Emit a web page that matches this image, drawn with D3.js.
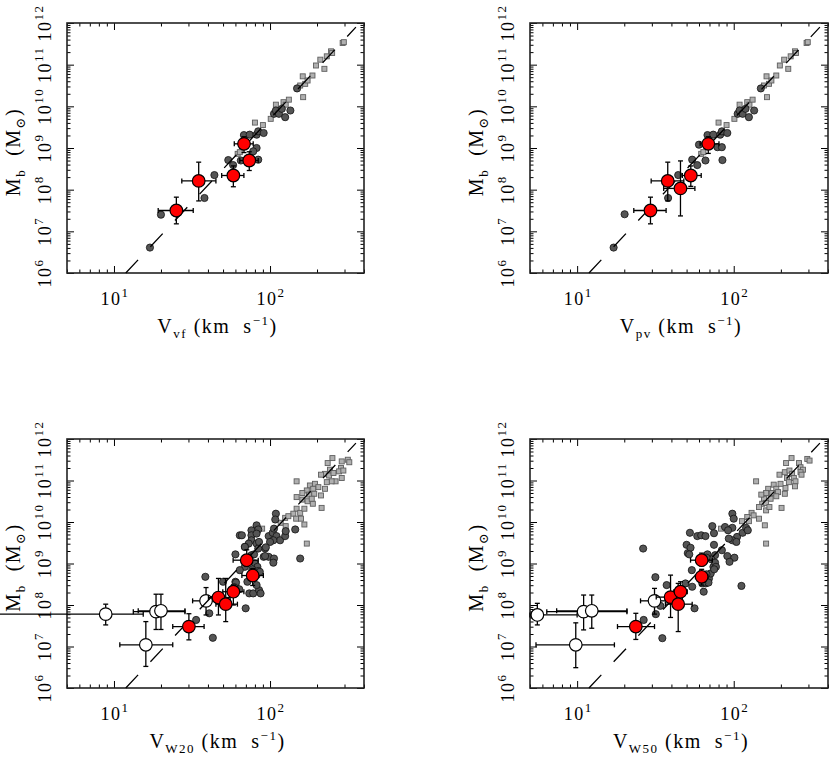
<!DOCTYPE html>
<html>
<head>
<meta charset="utf-8">
<script src="https://cdn.jsdelivr.net/npm/d3@7"></script>
<style>
  body { margin: 0; background: #fff; }
  svg text { font-family: "Liberation Serif", "DejaVu Serif", serif; fill: #000; white-space: pre; letter-spacing: 1.5px; }
</style>
</head>
<body>
<svg id="chart" width="830" height="761"></svg>
<script>
// values are [V (km/s), log10 Mb]; error points add [Vlo, Vhi, logMlo, logMhi]

// large spirals (grey squares), same in the two upper panels
const topSquares = [
  [62, 8.86], [64, 8.90], [80, 9.61], [90, 9.55], [101, 9.70], [109, 10.04], [122, 10.10],
  [126, 10.04], [132, 10.16], [156, 10.50], [162, 10.72], [163, 10.22], [168, 10.54],
  [174, 10.62], [187, 10.74], [197, 10.98], [210, 11.12], [223, 10.90], [231, 11.20],
  [246, 11.32], [250, 11.28], [292, 11.52], [297, 11.54]
];

const vfCircles = [
  [17.0, 6.61], [20.0, 7.40], [38, 7.80], [44, 8.35], [54, 8.71], [58, 8.59], [65, 8.70],
  [84, 8.72], [68, 9.31], [74, 9.32], [82, 9.32], [84, 9.40], [91, 9.36], [82, 9.00],
  [78, 8.92], [106, 9.82], [109, 9.90], [114, 9.82], [119, 9.94], [125, 9.74], [135, 9.90],
  [149, 10.43]
];
const vfRed = [
  [25.1, 7.50, 19.2, 32.2, 7.18, 7.82],
  [34.9, 8.21, 27.2, 45.0, 7.73, 8.66],
  [58.2, 8.34, 49.0, 68.0, 8.07, 8.57],
  [68.1, 9.10, 59.0, 78.0, 8.89, 9.27],
  [73.6, 8.70, 64.0, 84.0, 8.46, 8.91]
];

const pvCircles = [
  [17.1, 6.61], [20.1, 7.41], [38.1, 7.80], [44.2, 8.35], [54.3, 8.72], [58.5, 8.59],
  [66, 8.70], [60, 9.08], [84.7, 8.71], [78.7, 9.02], [84, 9.02], [68, 9.31], [74, 9.32],
  [82, 9.32], [84, 9.40], [91, 9.36], [106, 9.82], [109, 9.90], [114, 9.82], [119, 9.94],
  [125, 9.74], [135, 9.90], [149, 10.43]
];
const pvRed = [
  [29.4, 7.50, 23.0, 37.0, 7.18, 7.82],
  [37.9, 8.21, 29.7, 48.0, 7.73, 8.66],
  [45.7, 8.03, 35.7, 56.5, 7.37, 8.69],
  [53.2, 8.34, 47.0, 62.0, 8.08, 8.57],
  [68.8, 9.10, 61.0, 80.5, 8.87, 9.27]
];

const w20Squares = [
  [251, 11.54], [234, 11.42], [288, 11.46], [315, 11.50], [322, 11.44], [285, 11.30],
  [277, 11.22], [295, 11.24], [242, 11.26], [225, 11.16], [212, 11.14], [239, 11.12],
  [255, 11.18], [288, 11.06], [263, 10.98], [248, 10.98], [231, 10.96], [148, 10.98],
  [194, 10.92], [180, 10.88], [204, 10.84], [189, 10.80], [172, 10.76], [161, 10.70],
  [178, 10.66], [192, 10.68], [212, 10.64], [225, 10.80], [148, 10.60], [161, 10.54],
  [174, 10.50], [188, 10.44], [214, 10.34], [185, 10.56], [148, 10.32], [141, 10.20],
  [156, 10.22], [166, 10.32], [147, 10.08], [158, 10.08], [166, 9.94], [172, 9.48],
  [125, 10.10], [131, 10.14], [117, 9.98], [126, 9.90], [89, 9.84]
];
const w20Circles = [
  [109, 10.20], [108, 10.06], [82, 9.92], [84, 9.82], [76, 9.80], [64, 9.68], [66, 9.68],
  [76, 9.68], [82, 9.72], [98, 9.66], [104, 9.74], [106, 9.84], [110, 9.66], [116, 9.56],
  [125, 9.66], [126, 9.78], [145, 9.82], [105, 9.56], [100, 9.52], [76, 9.56], [73, 9.48],
  [82, 9.48], [69, 9.40], [93, 9.36], [84, 9.36], [60, 9.22], [76, 9.20], [91, 9.16],
  [98, 9.16], [106, 9.12], [105, 9.02], [156, 9.12], [80, 9.00], [83, 8.92], [84, 8.82],
  [82, 8.72], [69, 8.92], [64, 8.84], [50, 8.56], [60, 8.56], [60, 8.48], [38.5, 8.68],
  [33.6, 7.64], [43, 7.21], [40.8, 7.80], [69.8, 7.92], [60.5, 8.54], [59, 8.43],
  [71.6, 8.56], [63.5, 8.38], [73.6, 8.28], [78, 8.28], [85, 8.36], [87, 8.28], [82, 8.48],
  [86, 8.80], [94, 9.39], [85, 9.52], [93, 9.18], [79, 9.22], [77, 8.86], [69, 9.40]
];
const w20Red = [
  [30.2, 7.48, 23.8, 37.8, 7.16, 7.79],
  [46.7, 8.18, 40.3, 55.5, 7.76, 8.64],
  [52.0, 8.02, 45.0, 61.8, 7.60, 8.64],
  [58.2, 8.32, 49.8, 68.0, 8.00, 8.48],
  [70.9, 9.08, 58.0, 84.0, 8.93, 9.33],
  [77.4, 8.71, 66.0, 90.6, 8.47, 8.88]
];
const w20White = [
  [8.85, 7.78, 1.0, 15.4, 7.52, 8.02],
  [16.0, 7.04, 10.9, 23.8, 6.52, 7.60],
  [18.6, 7.84, 13.3, 28.5, 7.41, 8.26],
  [20.0, 7.86, 14.3, 28.5, 7.41, 8.26],
  [38.9, 8.10, 31.9, 46.7, 7.76, 8.42]
];

const w50Squares = [
  [234, 11.54], [216, 11.42], [261, 11.42], [295, 11.52], [305, 11.48], [267, 11.32],
  [277, 11.26], [267, 11.20], [271, 11.14], [139, 10.98], [196, 11.14], [212, 11.20],
  [227, 11.24], [236, 11.16], [219, 11.06], [242, 11.06], [248, 10.98], [246, 10.86],
  [225, 10.96], [214, 10.82], [199, 10.92], [180, 10.90], [187, 10.80], [166, 10.80],
  [161, 10.70], [176, 10.70], [192, 10.72], [187, 10.62], [172, 10.56], [156, 10.56],
  [150, 10.66], [212, 10.68], [152, 10.44], [161, 10.46], [145, 10.36], [161, 10.28],
  [169, 10.36], [202, 10.34], [145, 10.08], [158, 9.92], [161, 9.48], [130, 10.22],
  [122, 10.12], [113, 10.02], [125, 10.02], [83, 9.84], [134, 10.16]
];
const w50Circles = [
  [26.4, 9.36], [31.6, 8.67], [37.3, 8.48], [31.8, 7.78], [34, 7.98], [26.6, 7.64], [35, 7.20],
  [49.2, 8.52], [54.3, 8.44], [56.2, 7.92], [64.3, 8.32], [66.2, 8.52], [69.5, 8.64],
  [71.3, 8.76], [74.2, 8.92], [50.9, 9.25], [50, 9.45], [52.5, 9.74], [58.5, 9.66], [62, 9.68],
  [66, 9.66], [73, 9.90], [74.8, 9.73], [74.8, 9.45], [76, 9.20], [98, 10.20], [100, 10.08],
  [88, 9.88], [98, 9.86], [92, 9.80], [105, 9.64], [98, 9.56], [93, 9.60], [104, 9.52],
  [114, 9.74], [120, 9.86], [123, 9.80], [53, 9.38], [84, 9.32], [52, 9.22], [91, 9.18],
  [101, 9.14], [94, 9.04], [72, 9.10], [76, 9.02], [77, 8.92], [75, 8.86], [68, 9.22],
  [67, 9.14], [54, 8.84], [67, 8.74], [65, 8.60], [69, 8.54], [63, 8.52], [112, 8.46]
];
const w50Red = [
  [23.7, 7.48, 18.1, 31.2, 7.17, 7.80],
  [39.5, 8.19, 32.0, 47.0, 7.70, 8.72],
  [44.2, 8.02, 36.6, 54.3, 7.36, 8.52],
  [45.7, 8.32, 41.4, 50.5, 8.08, 8.56],
  [62.4, 8.68, 57.0, 68.4, 8.48, 8.86],
  [62.4, 9.08, 53.0, 73.0, 8.94, 9.25]
];
const w50White = [
  [5.57, 7.76, 5.0, 10.0, 7.52, 8.04],
  [11.0, 7.84, 6.4, 20.8, 7.40, 8.24],
  [12.4, 7.86, 7.4, 20.8, 7.44, 8.24],
  [9.8, 7.04, 5.46, 17.3, 6.49, 7.57],
  [31.2, 8.10, 25.4, 37.6, 7.78, 8.40]
];

// baryonic Tully-Fisher line end points [V, logM]
const btfLine = [[11.9, 6.0], [355, 11.9]];

const xDomain = [5, 400];
const yDomain = [1e6, 1e12];

const panels = [
  {x0: 67, y0: 23, w: 297, h: 250, sub: 'vf', squares: topSquares, circles: vfCircles, red: vfRed, white: []},
  {x0: 530, y0: 23, w: 298, h: 250, sub: 'pv', squares: topSquares, circles: pvCircles, red: pvRed, white: []},
  {x0: 67, y0: 439, w: 297, h: 249, sub: 'W20', squares: w20Squares, circles: w20Circles, red: w20Red, white: w20White},
  {x0: 530, y0: 439, w: 298, h: 249, sub: 'W50', squares: w50Squares, circles: w50Circles, red: w50Red, white: w50White}
];

const svg = d3.select('#chart');
const M = lm => Math.pow(10, lm);

panels.forEach(p => {
  const x = d3.scaleLog().domain(xDomain).range([p.x0, p.x0 + p.w]);
  const y = d3.scaleLog().domain(yDomain).range([p.y0 + p.h, p.y0]);
  const g = svg.append('g');

  // ticks on all four sides, pointing in
  const isMajor = v => Math.abs(Math.log10(v) - Math.round(Math.log10(v))) < 1e-6;
  const xt = x.ticks(), yt = y.ticks();
  const sides = [
    [d3.axisBottom(x), xt, `translate(0,${p.y0 + p.h})`],
    [d3.axisTop(x), xt, `translate(0,${p.y0})`],
    [d3.axisLeft(y), yt, `translate(${p.x0},0)`],
    [d3.axisRight(y), yt, `translate(${p.x0 + p.w},0)`]
  ];
  sides.forEach(([ax, ticks, tr]) => {
    [[ticks.filter(v => !isMajor(v)), 3.5], [ticks.filter(isMajor), 7]].forEach(([vals, len]) => {
      const a = g.append('g').attr('transform', tr)
        .call(ax.tickValues(vals).tickSize(-len).tickSizeOuter(0).tickFormat(''));
      a.select('.domain').remove();
      a.selectAll('line').attr('stroke', '#000').attr('stroke-width', 1);
    });
  });

  g.append('rect')
    .attr('x', p.x0).attr('y', p.y0).attr('width', p.w).attr('height', p.h)
    .attr('fill', 'none').attr('stroke', '#222').attr('stroke-width', 1.6);

  // tick labels
  xt.filter(isMajor).forEach(v => {
    const t = g.append('text').attr('x', x(v) + 1).attr('y', p.y0 + p.h + 32)
      .attr('text-anchor', 'middle').attr('font-size', 18);
    t.append('tspan').text('10');
    t.append('tspan').attr('dy', -8).attr('font-size', 13).text(Math.round(Math.log10(v)));
  });
  yt.filter(isMajor).forEach(v => {
    const t = g.append('text')
      .attr('transform', `translate(${p.x0 - 16},${y(v)}) rotate(-90)`)
      .attr('text-anchor', 'middle').attr('font-size', 18);
    t.append('tspan').text('10');
    t.append('tspan').attr('dy', -8).attr('font-size', 13).text(Math.round(Math.log10(v)));
  });

  // axis titles
  const xt1 = g.append('text').attr('x', p.x0 + p.w / 2 + 2).attr('y', p.y0 + p.h + 60)
    .attr('text-anchor', 'middle').attr('font-size', 20);
  xt1.append('tspan').text('V');
  xt1.append('tspan').attr('dy', 5).attr('font-size', 13).text(p.sub);
  xt1.append('tspan').attr('dy', -5).text(' (km  s');
  xt1.append('tspan').attr('dy', -8).attr('font-size', 13).text('−1');
  xt1.append('tspan').attr('dy', 8).text(')');

  const yt1 = g.append('text')
    .attr('transform', `translate(${p.x0 - 47},${p.y0 + p.h / 2 + 4}) rotate(-90)`)
    .attr('text-anchor', 'middle').attr('font-size', 20);
  yt1.append('tspan').text('M');
  yt1.append('tspan').attr('dy', 5).attr('font-size', 13).text('b');
  yt1.append('tspan').attr('dy', -5).text('  (M');
  yt1.append('tspan').attr('dy', 5).attr('font-size', 13).text('⊙');
  yt1.append('tspan').attr('dy', -5).text(')');

  // grey squares
  g.append('g').selectAll('rect').data(p.squares).join('rect')
    .attr('x', d => x(d[0]) - 2.5).attr('y', d => y(M(d[1])) - 2.5)
    .attr('width', 5).attr('height', 5)
    .attr('fill', '#b0b0b0').attr('stroke', '#5e5e5e').attr('stroke-width', 0.9);

  // dark circles
  g.append('g').selectAll('circle').data(p.circles).join('circle')
    .attr('cx', d => x(d[0])).attr('cy', d => y(M(d[1]))).attr('r', 3.6)
    .attr('fill', '#555').attr('stroke', '#111').attr('stroke-width', 0.8);

  function errPoints(data, fill) {
    const e = g.append('g').attr('stroke', '#000').attr('stroke-width', 1.3);
    data.forEach(d => {
      const cx = x(d[0]), cy = y(M(d[1]));
      const xl = x(d[2]), xr = x(d[3]), yb = y(M(d[4])), yu = y(M(d[5]));
      e.append('line').attr('x1', xl).attr('x2', xr).attr('y1', cy).attr('y2', cy);
      e.append('line').attr('x1', cx).attr('x2', cx).attr('y1', yb).attr('y2', yu);
      [xl, xr].forEach(xx => e.append('line').attr('x1', xx).attr('x2', xx).attr('y1', cy - 2.5).attr('y2', cy + 2.5));
      [yb, yu].forEach(yy => e.append('line').attr('y1', yy).attr('y2', yy).attr('x1', cx - 2.5).attr('x2', cx + 2.5));
    });
    g.append('g').selectAll('circle').data(data).join('circle')
      .attr('cx', d => x(d[0])).attr('cy', d => y(M(d[1]))).attr('r', 6.3)
      .attr('fill', fill).attr('stroke', '#000').attr('stroke-width', 1.2);
  }

  errPoints(p.white, '#fff');

  // Tully-Fisher relation
  g.append('path')
    .attr('d', d3.line().x(d => x(d[0])).y(d => y(M(d[1])))(btfLine))
    .attr('fill', 'none').attr('stroke', '#000').attr('stroke-width', 1.3)
    .attr('stroke-dasharray', '18,18');

  errPoints(p.red, '#ff0000');
});
</script>
</body>
</html>
